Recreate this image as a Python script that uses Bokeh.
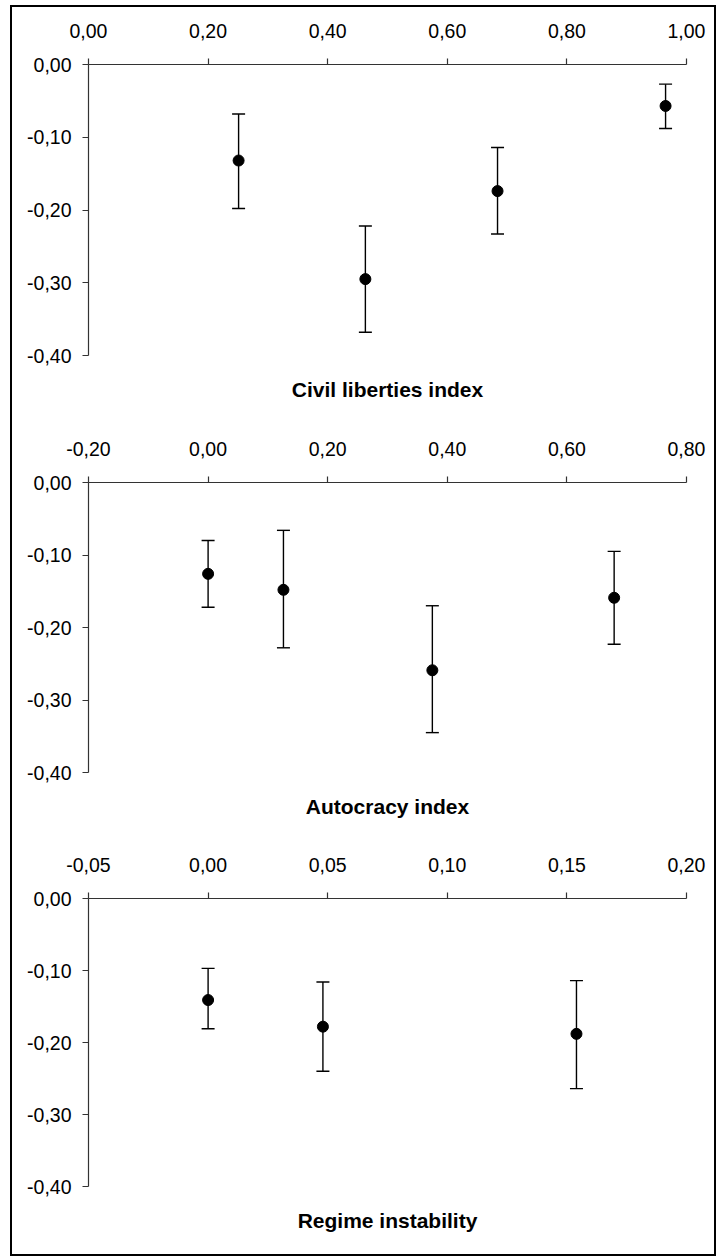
from bokeh.plotting import figure
from bokeh.models import (Range1d, FixedTicker, CustomJSTickFormatter, Whisker,
                          TeeHead, ColumnDataSource, Title)
from bokeh.layouts import column
from bokeh.embed import file_html
from bokeh.resources import INLINE

# ---- data ----
cl_x = [0.251, 0.463, 0.684, 0.965]
cl_y = [-0.132, -0.295, -0.174, -0.057]
cl_hi = [-0.068, -0.222, -0.114, -0.027]
cl_lo = [-0.198, -0.368, -0.233, -0.088]

ai_x = [0.000, 0.126, 0.375, 0.679]
ai_y = [-0.126, -0.148, -0.259, -0.159]
ai_hi = [-0.080, -0.066, -0.170, -0.095]
ai_lo = [-0.172, -0.228, -0.345, -0.223]

ri_x = [0.000, 0.048, 0.154]
ri_y = [-0.141, -0.178, -0.188]
ri_hi = [-0.097, -0.116, -0.114]
ri_lo = [-0.181, -0.240, -0.264]

cl_ticks = [0.0, 0.2, 0.4, 0.6, 0.8, 1.0]
ai_ticks = [-0.2, 0.0, 0.2, 0.4, 0.6, 0.8]
ri_ticks = [-0.05, 0.0, 0.05, 0.10, 0.15, 0.20]
y_ticks = [0.0, -0.1, -0.2, -0.3, -0.4]

titles = ["Civil liberties index", "Autocracy index", "Regime instability"]

FONT = "Liberation Sans"
AXIS_COLOR = "#333333"
fmt_code = "return tick.toFixed(2).replace('.', ',');"


def panel(xs, ys, hi, lo, xticks, title, height, bottom):
    p = figure(width=702, height=height,
               x_range=Range1d(xticks[0], xticks[-1]),
               y_range=Range1d(y_ticks[-1], y_ticks[0]),
               x_axis_location="above", y_axis_location="left",
               toolbar_location=None, output_backend="svg",
               min_border_left=76, min_border_right=28,
               min_border_top=57, min_border_bottom=bottom,
               outline_line_color=None, background_fill_color="white",
               border_fill_color="white")
    p.grid.visible = False
    for ax, ticks in ((p.xaxis[0], xticks), (p.yaxis[0], y_ticks)):
        ax.ticker = FixedTicker(ticks=ticks)
        ax.formatter = CustomJSTickFormatter(code=fmt_code)
        ax.minor_tick_line_color = None
        ax.major_tick_in = 0
        ax.major_tick_out = 6
        ax.axis_line_color = AXIS_COLOR
        ax.major_tick_line_color = AXIS_COLOR
        ax.axis_line_width = 1.2
        ax.major_tick_line_width = 1.2
        ax.major_label_text_font = FONT
        ax.major_label_text_font_size = "19.5px"
        ax.major_label_text_color = "black"
    p.xaxis[0].major_label_standoff = 21
    p.yaxis[0].major_label_standoff = 11

    src = ColumnDataSource(dict(x=xs, y=ys, hi=hi, lo=lo))
    w = Whisker(base="x", upper="hi", lower="lo", source=src,
                line_color="black", line_width=1.4,
                upper_head=TeeHead(size=13, line_color="black", line_width=1.4),
                lower_head=TeeHead(size=13, line_color="black", line_width=1.4))
    p.add_layout(w)
    p.scatter("x", "y", source=src, size=11, color="black")

    p.add_layout(Title(text=title, align="center", text_font=FONT,
                       text_font_size="21px", text_font_style="bold",
                       text_color="black", standoff=40), "below")
    return p


p1 = panel(cl_x, cl_y, cl_hi, cl_lo, cl_ticks, titles[0], 418, 70)
p2 = panel(ai_x, ai_y, ai_hi, ai_lo, ai_ticks, titles[1], 416, 69)
p3 = panel(ri_x, ri_y, ri_hi, ri_lo, ri_ticks, titles[2], 413, 68)

layout = column(p1, p2, p3, spacing=0, margin=(5, 0, 0, 10),
                styles={"border": "2px solid black", "background": "white"})

open("out.html", "w").write(file_html(layout, INLINE))
